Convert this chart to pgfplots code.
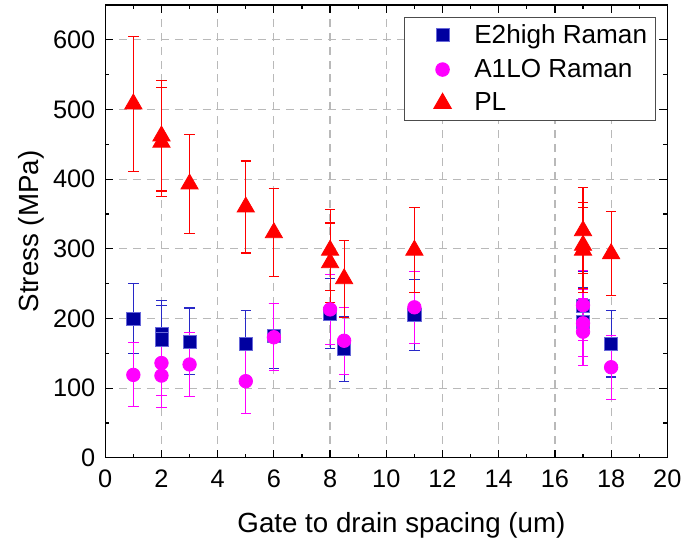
\documentclass[border=0pt]{standalone}
\usepackage{fontspec}
\setmainfont{Liberation Sans}
\usepackage{pgfplots}
\usepackage{pgfplotstable}
\pgfplotsset{compat=1.18}
\definecolor{navyb}{RGB}{0,0,160}
\definecolor{bluee}{RGB}{40,40,200}
\definecolor{magp}{RGB}{255,0,255}
\definecolor{redp}{RGB}{255,0,0}
\pgfplotsset{myleg/.style={legend image code/.code={\path[use as bounding box,draw=none,fill=none] (-5bp,-3bp) rectangle (26bp,3bp); \draw[only marks,##1] plot coordinates {(12bp,0bp)};}}}
\pgfplotstableread{
x y ey
1 200 50
2 178 48
2 170 48
3 167 48
5 164 47
6 175 47
8 207 50
8.5 156 47
11 205 51
17 218 50
17 195 50
18 164 48
}\eTwo
\pgfplotstableread{
x y ey
1 119 46
2 136 46
2 118 46
3 134 46
5 110 46
6 173 48
8 213 50
8.5 168 48
11 216 52
17 219 50
17 193 48
17 181 48
18 130 46
}\aOne
\pgfplotstableread{
x y ey
1 508 97
2 462 79
2 453 78
3 393 71
5 360 66
6 323 63
8 298 58
8 280 57
8.5 257 55
11 298 61
17 326 62
17 305 62
17 298 61
18 293 60
}\plData
\begin{document}
\begin{tikzpicture}
\begin{axis}[
  name=ax,
  scale only axis,
  width=283bp, height=228bp,
  xmin=0, xmax=20, ymin=0, ymax=650,
  xtick={0,2,...,20}, ytick={0,100,...,600},
  minor x tick num=1, minor y tick num=1,
  tick align=inside,
  major tick length=4bp, minor tick length=2bp,
  axis line style={line width=0.7bp},
  every tick/.style={black, line width=0.6bp},
  grid=major,
  major grid style={gray!55, line width=0.6bp, dash pattern=on 4bp off 3bp},
  /pgf/number format/assume math mode=true,
  tick label style={font=\fontsize{12.8}{15}\selectfont},
  xticklabel style={yshift=-2.5bp},
  yticklabel style={xshift=-1.5bp},
  label style={font=\fontsize{14}{16}\selectfont},
  xlabel={Gate to drain spacing (um)},
  ylabel={Stress (MPa)},
  x label style={at={(axis description cs:0.527,-0.105)}, anchor=north},
  y label style={at={(axis description cs:-0.097,0.5)}, anchor=south},
  legend style={at={(rel axis cs:0.979,0.974)}, anchor=north east,
    draw=black!70, line width=0.5bp, font=\fontsize{13.2}{15}\selectfont,
    inner xsep=2bp, inner ysep=1.6bp, row sep=2.4bp},
  legend cell align=left,
  clip=false,
]
\addplot[only marks, myleg, mark=square*, mark size=3.3bp, mark options={fill=navyb, draw=bluee!70, line width=0.4bp},
  error bars/.cd, y dir=both, y explicit,
  error bar style={color=bluee, line width=0.55bp},
  error mark options={rotate=90, mark size=2.6bp, line width=0.55bp, color=bluee}]
  table[x=x, y=y, y error=ey] {\eTwo};
\addlegendentry{E2high Raman}
\addplot[only marks, myleg, mark=*, mark size=3.4bp, mark options={fill=magp, draw=magp},
  error bars/.cd, y dir=both, y explicit,
  error bar style={color=magp, line width=0.55bp},
  error mark options={rotate=90, mark size=2.6bp, line width=0.55bp, color=magp}]
  table[x=x, y=y, y error=ey] {\aOne};
\addlegendentry{A1LO Raman}
\addplot[only marks, myleg, mark=triangle*, mark size=5bp, mark options={fill=redp, draw=redp},
  error bars/.cd, y dir=both, y explicit,
  error bar style={color=redp, line width=0.55bp},
  error mark options={rotate=90, mark size=2.6bp, line width=0.55bp, color=redp}]
  table[x=x, y=y, y error=ey] {\plData};
\addlegendentry{PL}
\end{axis}
\path ([xshift=-53bp,yshift=-42.5bp]ax.south west) rectangle ([xshift=8bp,yshift=2.5bp]ax.north east);
\end{tikzpicture}
\end{document}
